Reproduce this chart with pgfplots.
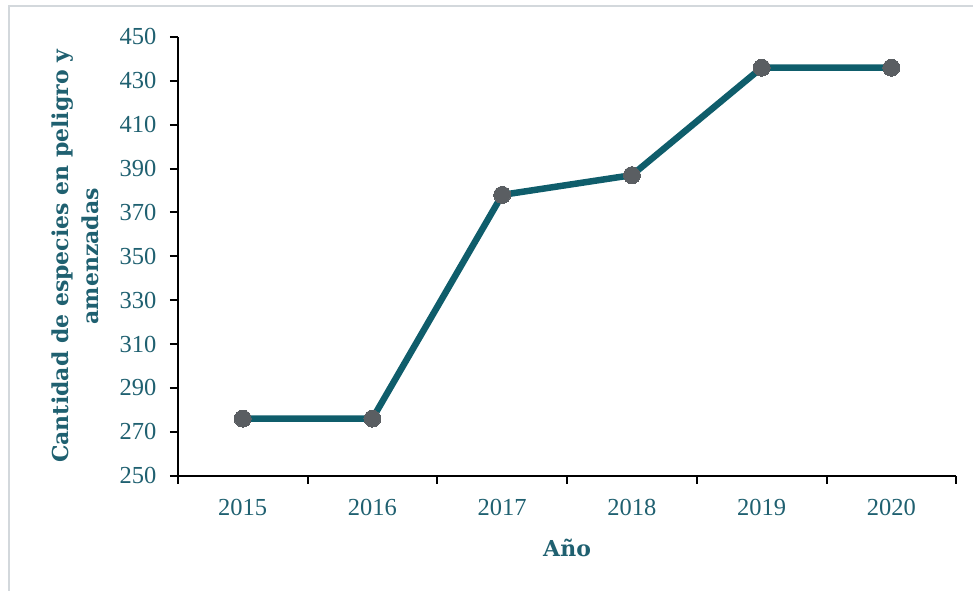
\documentclass[border=0pt]{standalone}
\usepackage{pgfplots}
\pgfplotsset{compat=1.18}
\usepackage{fontspec}
\setmainfont{Liberation Serif}
\newfontfamily\labfont{DejaVu Serif}
\definecolor{txt}{HTML}{1F6070}
\definecolor{ln}{HTML}{0F5D6B}
\definecolor{mk}{HTML}{5A5E62}
\definecolor{frm}{HTML}{D3D8DC}
\begin{document}
\begin{tikzpicture}[x=1pt,y=1pt]
\path (0,0) rectangle (974,591);
\draw[frm, line width=1.5pt] (9,0) -- (9,585) -- (974,585);
\begin{axis}[
  at={(178pt,115pt)}, anchor=south west,
  scale only axis, width=779pt, height=439pt,
  xmin=-0.5, xmax=5.5, ymin=250, ymax=450,
  axis x line*=bottom, axis y line*=left,
  axis line style={black, line width=2pt},
  xtick={0,...,5},
  xticklabels={2015,2016,2017,2018,2019,2020},
  major x tick style={draw=none},
  minor xtick={-0.5,0.5,...,5.5},
  minor tick length=8pt,
  every minor tick/.style={black, line width=2pt},
  ytick={250,270,...,450},
  major tick length=8pt,
  tick align=outside,
  every tick/.style={black, line width=2pt},
  ytick style={black, line width=2pt},
  tick label style={font=\fontsize{24.5}{28}\selectfont, text=txt},
  /pgf/number format/assume math mode=true,
  /pgf/number format/1000 sep={},
  yticklabel style={xshift=-10pt},
  xticklabel style={yshift=-12pt},
  xlabel={Año},
  ylabel={Cantidad de especies en peligro y\\amenzadas},
  every axis x label/.style={at={(axis description cs:0.5,0)}, anchor=center, yshift=-72pt, font=\labfont\bfseries\fontsize{22}{30}\selectfont, text=txt},
  every axis y label/.style={at={(axis description cs:0,0.5)}, xshift=-103pt, anchor=center, rotate=90, align=center, font=\labfont\bfseries\fontsize{22}{30}\selectfont, text=txt},
  clip=false,
]
\addplot[ln, line width=6.5pt, mark=*, mark size=8.5pt, mark options={fill=mk, draw=mk, line width=0pt}] coordinates {
(0,276) (1,276) (2,378) (3,387) (4,436) (5,436)
};
\end{axis}
\end{tikzpicture}
\end{document}
